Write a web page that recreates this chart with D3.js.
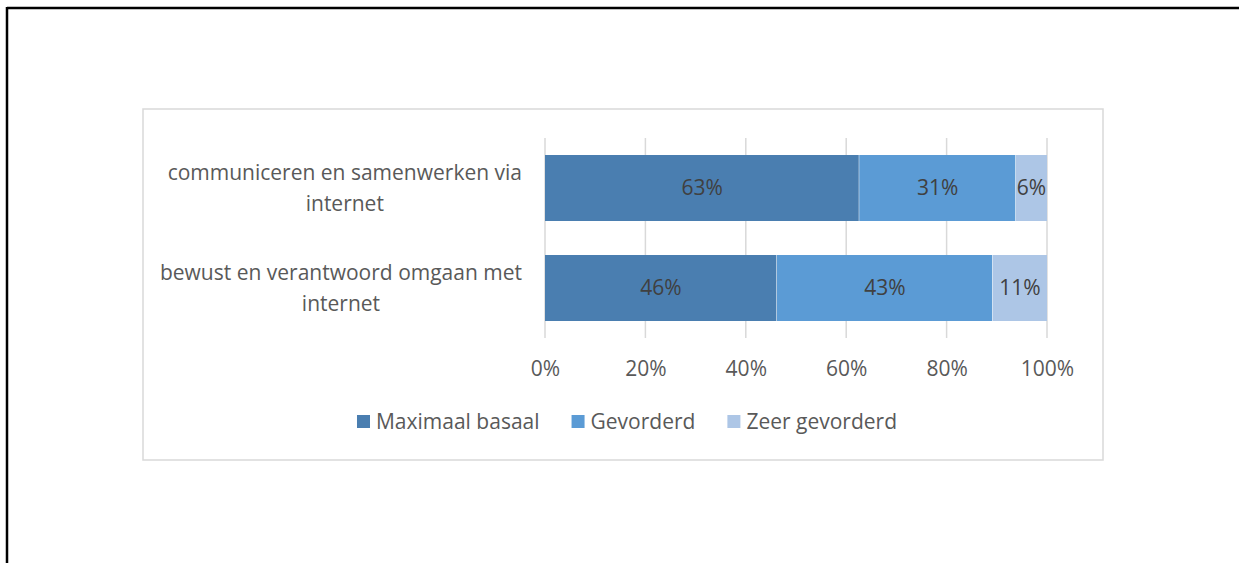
<!DOCTYPE html>
<html><head><meta charset="utf-8">
<script src="https://cdn.jsdelivr.net/npm/d3@7"></script>
<style>
html,body{margin:0;padding:0;background:#fff;}
svg{display:block;}
text{font-family:"Open Sans",sans-serif;}
</style></head>
<body>
<svg id="c" width="1239" height="563"></svg>
<script>
const categories = [
  ["communiceren en samenwerken via", "internet"],
  ["bewust en verantwoord omgaan met", "internet"]
];
const seriesNames = ["Maximaal basaal", "Gevorderd", "Zeer gevorderd"];
const maximaalBasaal = [62.6, 46.2];
const gevorderd = [31.2, 43.0];
const zeerGevorderd = [6.2, 10.8];
const dataLabels = [["63%", "46%"], ["31%", "43%"], ["6%", "11%"]];
const tickValues = [0, 20, 40, 60, 80, 100];
const tickLabels = ["0%", "20%", "40%", "60%", "80%", "100%"];
const colors = ["#4a7eb0", "#5b9bd5", "#adc6e6"];

const svg = d3.select("#c");
// outer page border lines (top and left)
svg.append("line").attr("x1",7).attr("x2",1239).attr("y1",8).attr("y2",8).attr("stroke","#000").attr("stroke-width",2.5);
svg.append("line").attr("x1",7).attr("x2",7).attr("y1",7).attr("y2",563).attr("stroke","#000").attr("stroke-width",2.5);
// chart frame
svg.append("rect").attr("x",143).attr("y",109).attr("width",960).attr("height",351)
  .attr("fill","#fff").attr("stroke","#d9d9d9").attr("stroke-width",1.5);

const x = d3.scaleLinear().domain([0,100]).range([545,1047]);
const y = d3.scaleBand().domain(d3.range(categories.length)).range([138,338]).paddingInner(0.34).paddingOuter(0.17);

// gridlines
svg.append("g").selectAll("line").data(tickValues).join("line")
  .attr("x1",d=>x(d)).attr("x2",d=>x(d)).attr("y1",138).attr("y2",338)
  .attr("stroke","#d9d9d9").attr("stroke-width",1.5);

// stacked data
const rows = categories.map((c,i)=>({i, a:maximaalBasaal[i], b:gevorderd[i], c:zeerGevorderd[i]}));
const stack = d3.stack().keys(["a","b","c"])(rows);

stack.forEach((layer,si)=>{
  const g = svg.append("g");
  g.selectAll("rect").data(layer).join("rect")
    .attr("x",d=>x(d[0])).attr("width",d=>x(d[1])-x(d[0]))
    .attr("y",d=>y(d.data.i)).attr("height",y.bandwidth())
    .attr("fill",colors[si]);
  g.selectAll("line").data(layer).join("line")
    .attr("x1",d=>x(d[1])).attr("x2",d=>x(d[1]))
    .attr("y1",d=>y(d.data.i)).attr("y2",d=>y(d.data.i)+y.bandwidth())
    .attr("stroke","#fff").attr("stroke-width", si<2?1:0);
  g.selectAll("text").data(layer).join("text")
    .attr("x",d=>(x(d[0])+x(d[1]))/2)
    .attr("y",d=>y(d.data.i)+y.bandwidth()/2)
    .attr("dy","0.35em").attr("text-anchor","middle")
    .attr("font-size",21).attr("fill","#404040")
    .text((d,k)=>dataLabels[si][k]);
});

// axis tick labels
const axis = d3.axisBottom(x).tickValues(tickValues).tickSize(0).tickPadding(0)
  .tickFormat((d,i)=>tickLabels[i]);
const ag = svg.append("g").attr("transform","translate(0,361)").call(axis);
ag.select(".domain").remove();
ag.selectAll("text").attr("font-size",21).attr("fill","#595959").attr("font-family","'Open Sans',sans-serif").attr("dy","0.71em");

// category labels
categories.forEach((lines,i)=>{
  const g = svg.append("g");
  const ts = lines.map((l,k)=>g.append("text").attr("font-size",21).attr("fill","#595959")
     .attr("text-anchor","middle").text(l));
  const maxW = d3.max(ts, t=>t.node().getComputedTextLength());
  const cx = 522 - maxW/2;
  const cy = y(i)+y.bandwidth()/2;
  ts.forEach((t,k)=>t.attr("x",cx).attr("y",cy + (k-0.5)*31).attr("dy","0.35em"));
});

// legend
const lg = svg.append("g");
let items = seriesNames.map((n,i)=>{
  const t = lg.append("text").attr("font-size",21).attr("fill","#595959").attr("dy","0.35em").text(n);
  return {t, w:t.node().getComputedTextLength(), i};
});
const sq=13, gap=6, spacing=32;
const total = d3.sum(items,d=>sq+gap+d.w) + spacing*(items.length-1);
let cx0 = 627 - total/2;
items.forEach(d=>{
  lg.append("rect").attr("x",cx0).attr("y",415).attr("width",sq).attr("height",sq).attr("fill",colors[d.i]);
  d.t.attr("x",cx0+sq+gap).attr("y",421.5);
  cx0 += sq+gap+d.w+spacing;
});
</script>
</body></html>
